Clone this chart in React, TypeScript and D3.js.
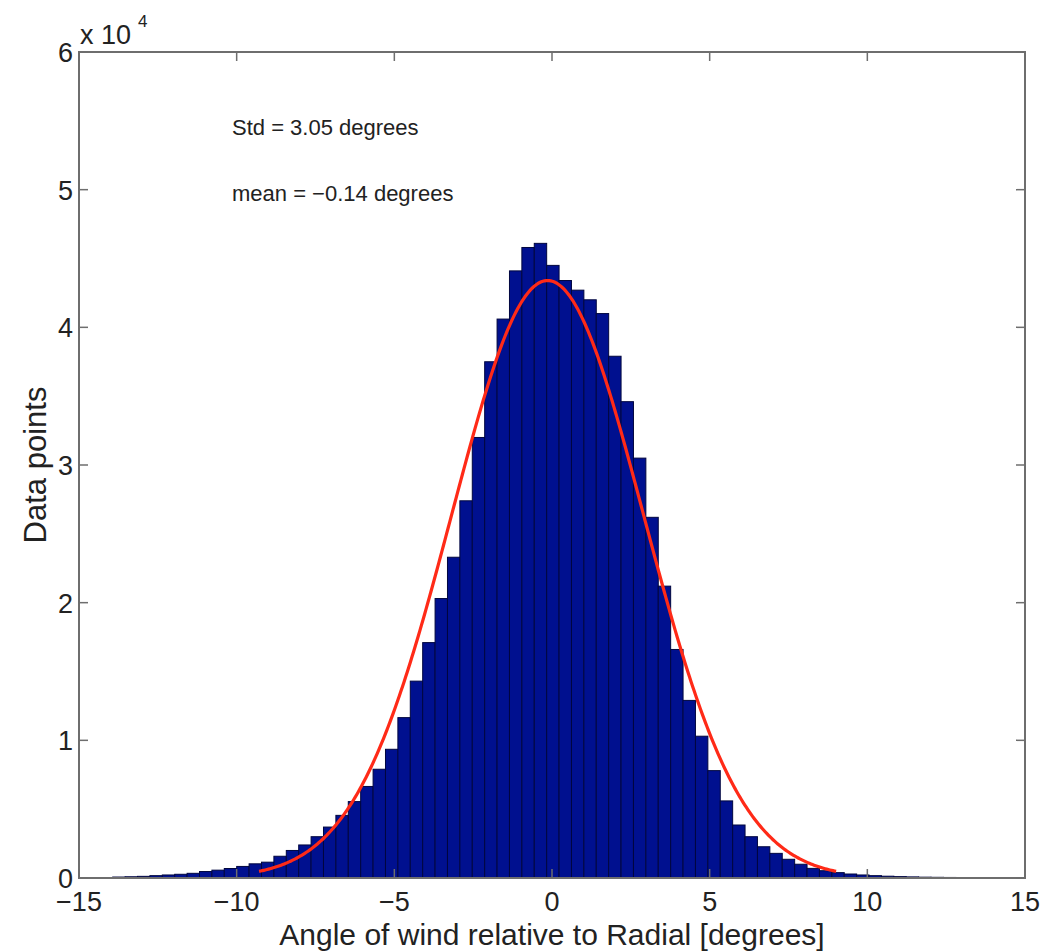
import React from "react";
import * as d3 from "d3";

// Histogram: bin start (degrees), bin width (degrees), counts per bin
const binStart = -13.931;
const binWidth = 0.3932;
const counts = [
  70, 90, 120, 170, 220, 270, 340, 470, 570, 690, 840, 1030, 1150, 1580, 2000, 2400,
  3000, 3700, 4550, 5550, 6650, 7900, 9350, 11650, 14300, 17100, 20300, 23300, 27400,
  32000, 37500, 40600, 44100, 45800, 46100, 44500, 43400, 42700, 42000, 41000, 37900,
  34600, 30500, 26200, 21200, 16600, 12900, 10300, 7800, 5600, 3850, 3000, 2270, 1790,
  1360, 1000, 700, 530, 390, 290, 220, 170, 130, 100, 80, 60, 50, 40, 30,
];

// Fitted normal curve parameters
const fitMean = -0.14;
const fitStd = 3.05;
const fitPeak = 43400;

const xTicks = [-15, -10, -5, 0, 5, 10, 15];
const yTicks = [0, 1, 2, 3, 4, 5, 6];
const yTickLabels = ["0", "1", "2", "3", "4", "5", "6"];

const W = 1045;
const H = 951;
const M = { left: 79, right: 1025, top: 52, bottom: 878 };
const FONT = "'Liberation Sans', Arial, Helvetica, sans-serif";

export default function App() {
  const x = d3.scaleLinear().domain([-15, 15]).range([M.left, M.right]);
  const y = d3.scaleLinear().domain([0, 60000]).range([M.bottom, M.top]);

  const fitX = d3.range(fitMean - 3 * fitStd, fitMean + 3 * fitStd + 1e-9, 0.05);
  const line = d3
    .line<number>()
    .x((v) => x(v))
    .y((v) => y(fitPeak * Math.exp(-((v - fitMean) ** 2) / (2 * fitStd * fitStd))))
    .curve(d3.curveLinear);

  const tickLen = 9;
  const axisColor = "#6e6e6e";
  const textColor = "#222";

  return (
    <svg
      width={W}
      height={H}
      style={{ position: "absolute", left: 0, top: 0, background: "#fff" }}
      fontFamily={FONT}
    >
      <rect x={0} y={0} width={W} height={H} fill="#fff" />
      {/* bars */}
      <g>
        {counts.map((c, i) => {
          const x0 = x(binStart + i * binWidth);
          const x1 = x(binStart + (i + 1) * binWidth);
          return (
            <rect
              key={i}
              x={x0}
              y={y(c)}
              width={x1 - x0}
              height={y(0) - y(c)}
              fill="#00108F"
              stroke="#00063f"
              strokeWidth={1}
            />
          );
        })}
      </g>
      {/* fitted curve */}
      <path d={line(fitX) || ""} fill="none" stroke="#ff2a17" strokeWidth={3.2} />

      {/* axes box */}
      <rect
        x={M.left}
        y={M.top}
        width={M.right - M.left}
        height={M.bottom - M.top}
        fill="none"
        stroke={axisColor}
        strokeWidth={2}
      />
      {/* x ticks */}
      {xTicks.map((t) => (
        <g key={"xt" + t}>
          <line x1={x(t)} x2={x(t)} y1={M.bottom} y2={M.bottom - tickLen} stroke={axisColor} strokeWidth={1.5} />
          <line x1={x(t)} x2={x(t)} y1={M.top} y2={M.top + tickLen} stroke={axisColor} strokeWidth={1.5} />
          <text
            x={x(t)}
            y={M.bottom + 33}
            textAnchor="middle"
            fontSize={27}
            fill={textColor}
          >
            {t < 0 ? "\u2212" + Math.abs(t) : String(t)}
          </text>
        </g>
      ))}
      {/* y ticks */}
      {yTicks.map((t, i) => (
        <g key={"yt" + t}>
          <line x1={M.left} x2={M.left + tickLen} y1={y(t * 10000)} y2={y(t * 10000)} stroke={axisColor} strokeWidth={1.5} />
          <line x1={M.right} x2={M.right - tickLen} y1={y(t * 10000)} y2={y(t * 10000)} stroke={axisColor} strokeWidth={1.5} />
          <text
            x={M.left - 6}
            y={y(t * 10000) + 10}
            textAnchor="end"
            fontSize={27}
            fill={textColor}
          >
            {yTickLabels[i]}
          </text>
        </g>
      ))}
      {/* exponent label */}
      <text x={80} y={44} fontSize={27} fill={textColor}>
        x 10
      </text>
      <text x={138} y={27} fontSize={17} fill={textColor}>
        4
      </text>

      {/* annotations */}
      <text x={232} y={135} fontSize={22} fill={textColor}>
        Std = 3.05 degrees
      </text>
      <text x={232} y={201} fontSize={22} fill={textColor}>
        mean = {"\u2212"}0.14 degrees
      </text>

      {/* axis labels */}
      <text
        x={(M.left + M.right) / 2}
        y={945}
        textAnchor="middle"
        fontSize={30}
        fill={textColor}
      >
        Angle of wind relative to Radial [degrees]
      </text>
      <text
        transform={`translate(46, ${(M.top + M.bottom) / 2}) rotate(-90)`}
        textAnchor="middle"
        fontSize={31}
        fill={textColor}
      >
        Data points
      </text>
    </svg>
  );
}
